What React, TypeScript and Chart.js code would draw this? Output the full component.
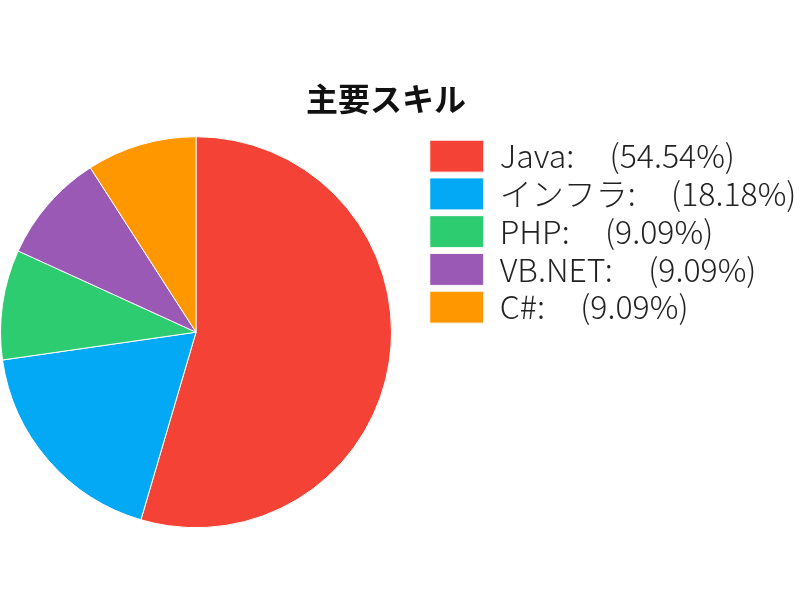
import React, { useEffect, useRef } from 'react';
import { Chart, registerables } from 'chart.js';

Chart.register(...registerables);

const chartTitle = '主要スキル';
const skills = ['Java', 'インフラ', 'PHP', 'VB.NET', 'C#'];
const counts = [6, 2, 1, 1, 1];
const colors = ['#F44336', '#03A9F4', '#2ECC71', '#9B59B6', '#FF9800'];

const pct = (v: number, total: number) => (Math.floor((v / total) * 10000) / 100).toFixed(2);

const legendOffset = {
  id: 'legendOffset',
  afterLayout(chart: any) {
    const lg = chart.legend;
    if (lg) {
      lg.left += 32;
      lg.right += 32;
    }
  },
};

export default function App() {
  const ref = useRef<HTMLCanvasElement | null>(null);
  useEffect(() => {
    if (!ref.current) return;
    const total = counts.reduce((a, b) => a + b, 0);
    const labels = skills.map((s, i) => `${s}:     (${pct(counts[i], total)}%)`);
    const chart = new Chart(ref.current, {
      type: 'pie',
      data: {
        labels,
        datasets: [
          {
            data: counts,
            backgroundColor: colors,
            borderColor: '#ffffff',
            borderWidth: 1,
          },
        ],
      },
      options: {
        animation: false,
        responsive: true,
        maintainAspectRatio: false,
        layout: { padding: { left: 0, right: 28, top: 0, bottom: 70 } },
        plugins: {
          title: {
            display: true,
            text: chartTitle,
            color: '#111',
            font: { size: 32, weight: 'bold', family: "'Noto Sans CJK JP', sans-serif" },
            padding: { top: 80, bottom: 16 },
          },
          legend: {
            position: 'right',
            align: 'start',
            fullSize: false,
            maxWidth: 380,
            labels: {
              boxWidth: 54,
              boxHeight: 32,
              padding: 5.75,
              color: '#222',
              font: { size: 32, weight: 300, family: "'Noto Sans CJK JP', sans-serif" },
            },
          },
          tooltip: { enabled: false },
        },
      },
      plugins: [legendOffset],
    });
    return () => chart.destroy();
  }, []);
  return (
    <div style={{ position: 'fixed', left: 0, top: 0, width: 800, height: 600, background: '#fff' }}>
      <canvas ref={ref} />
    </div>
  );
}
